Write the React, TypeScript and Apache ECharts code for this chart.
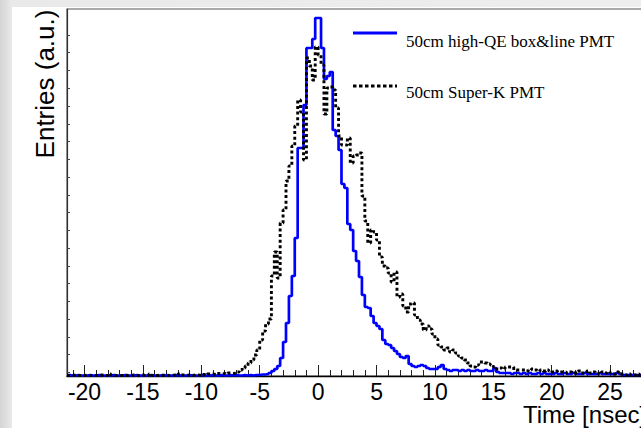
import React, { useEffect, useRef } from "react";
import * as echarts from "echarts";

// ---- data ----
const BIN_START = -21.5;
const BIN_WIDTH = 0.25;
const X_MIN = -21.5;
const X_MAX = 28.5;
const X_MAJOR_TICKS = [-20, -15, -10, -5, 0, 5, 10, 15, 20, 25];
const X_MINOR_TICKS = [
  -21, -19, -18, -17, -16, -14, -13, -12, -11, -9, -8, -7, -6, -4, -3, -2, -1,
  1, 2, 3, 4, 6, 7, 8, 9, 11, 12, 13, 14, 16, 17, 18, 19, 21, 22, 23, 24, 26, 27, 28,
];
const Y_MAX = 367;
const Y_TICKS = [
  3.6, 21.4, 39.1, 56.9, 74.6, 92.4, 110.2, 127.9, 145.7, 163.4, 181.2, 199.0,
  216.7, 234.5, 252.2, 270.0, 287.8, 305.5, 323.3, 341.0,
];

const SERIES_NAMES = ["50cm high-QE box&line PMT", "50cm Super-K PMT"];
const X_TITLE = "Time [nsec]";
const Y_TITLE = "Entries (a.u.)";

// entries per 0.25 ns bin, from -21.5 ns
const highQE = [
  1, 0.5, 0.5, 1, 0.5, 0.5, 0.5, 1, 0.5, 0.5, 1, 0.5, 0.5, 0.5, 0.5, 1, 0.5, 0.5, 0.5, 1,
  0.5, 0.5, 0.5, 1, 0.5, 0.5, 0.5, 0.5, 1, 0.5, 0.5, 0.5, 1, 0.5, 0.5, 0.5, 0.5, 1, 0.5, 0.5,
  0.5, 1, 0.5, 0.5, 0.5, 1, 0.5, 0.5, 0.5, 1, 0.5, 0.5, 1, 0.5, 0.5, 1, 0.5, 1, 0.5, 0.5,
  1, 0.5, 1, 0.5, 1, 1, 1.5, 1.5, 2, 3, 5, 7, 10, 18, 34, 53, 80, 100, 138, 228,
  228, 271, 328, 328, 337, 358, 358, 328, 297, 300, 304, 246, 240, 226, 192, 188, 152, 146, 125, 115,
  99, 81, 69, 68, 60, 53, 50, 47, 36, 32, 31, 28, 25, 22, 19, 18, 20, 12, 10, 9,
  10, 11, 10, 8, 7, 7, 7, 9, 11, 7, 6, 5, 6, 6, 5, 6, 5, 6, 5, 5,
  6, 5, 5, 6, 5, 5, 8, 4, 3, 3, 3, 3, 2, 3, 3, 2, 3, 2, 3, 2,
  2, 3, 2, 3, 2, 2, 2, 3, 2, 2, 3, 2, 2, 3, 2, 2, 2, 3, 2, 2,
  2, 2, 3, 2, 2, 2, 2, 2, 3, 2, 1, 1, 1, 1, 1, 1, 1, 1, 1, 1,
];

const superK = [
  0.5, 0.5, 1, 0.5, 0.5, 0.5, 1, 0.5, 0.5, 0.5, 0.5, 1, 0.5, 0.5, 2, 1, 0.5, 0.5, 0.5, 1,
  0.5, 0.5, 1, 0.5, 0.5, 1, 0.5, 0.5, 2, 0.5, 0.5, 1, 0.5, 1, 0.5, 0.5, 1, 0.5, 2, 1,
  0.5, 1, 0.5, 1, 1, 0.5, 1.5, 1, 2, 2, 1.5, 2.5, 2, 2.5, 2, 3, 2.5, 3, 4, 6,
  8, 10, 13, 16, 21, 26, 36, 45, 52, 57, 100, 124, 98, 153, 166, 195, 210, 230, 250, 276,
  264, 216, 318, 310, 296, 329, 321, 311, 262, 288, 289, 286, 268, 240, 231, 231, 238, 213, 220, 221,
  223, 180, 155, 133, 146, 144, 136, 119, 110, 108, 103, 94, 104, 79, 82, 70, 64, 72, 73, 61,
  56, 52, 46, 50, 47, 42, 37, 31, 29, 26, 28, 24, 26, 23, 20, 18, 16, 13, 10, 9,
  11, 14, 14, 13, 12, 11, 9, 7, 8, 7, 9, 9, 9, 6, 6, 6, 6, 5, 6, 7,
  6, 5, 6, 5, 6, 5, 4, 5, 4, 4, 4, 3, 4, 3, 3, 5, 3, 3, 5, 3,
  4, 3, 2, 4, 3, 4, 3, 2, 4, 2, 2, 1, 2, 1, 1, 2, 1, 1, 1, 1,
];

function toSteps(values: number[]): [number, number][] {
  const pts: [number, number][] = values.map((v, k) => [BIN_START + k * BIN_WIDTH, v]);
  pts.push([BIN_START + values.length * BIN_WIDTH, values[values.length - 1]]);
  return pts;
}

const SANS = "'Liberation Sans', Arial, Helvetica, sans-serif";
const SERIF = "'Liberation Serif', 'Times New Roman', serif";

export default function App() {
  const ref = useRef<HTMLDivElement>(null);

  useEffect(() => {
    if (!ref.current) return;
    const chart = echarts.init(ref.current, undefined, { renderer: "svg" });
    chart.setOption({
      animation: false,
      grid: {
        left: 67,
        top: 9,
        width: 584,
        height: 367,
        show: true,
        borderColor: "#555",
        borderWidth: 1.2,
        backgroundColor: "transparent",
      },
      xAxis: [
        {
          type: "value",
          min: X_MIN,
          max: X_MAX,
          position: "bottom",
          axisLine: { show: true, onZero: false, lineStyle: { color: "#000", width: 1.3 } },
          axisTick: {
            show: true,
            inside: true,
            length: 11,
            customValues: X_MAJOR_TICKS,
            lineStyle: { color: "#222", width: 1 },
          },
          axisLabel: {
            show: true,
            customValues: X_MAJOR_TICKS,
            fontSize: 23,
            lineHeight: 18,
            fontFamily: SANS,
            color: "#000",
            margin: 7,
          },
          splitLine: { show: false },
        },
        {
          type: "value",
          min: X_MIN,
          max: X_MAX,
          position: "bottom",
          axisLine: { show: false },
          axisTick: {
            show: true,
            inside: true,
            length: 6,
            customValues: X_MINOR_TICKS,
            lineStyle: { color: "#222", width: 1 },
          },
          axisLabel: { show: false },
          splitLine: { show: false },
        },
      ],
      yAxis: {
        type: "value",
        min: 0,
        max: Y_MAX,
        axisLine: { show: true, onZero: false, lineStyle: { color: "#333", width: 1.2 } },
        axisTick: {
          show: true,
          inside: true,
          length: 3,
          customValues: Y_TICKS,
          lineStyle: { color: "#444", width: 1 },
        },
        axisLabel: { show: false },
        splitLine: { show: false },
      },
      series: [
        {
          name: SERIES_NAMES[0],
          type: "line",
          step: "end",
          xAxisIndex: 0,
          data: toSteps(highQE),
          symbol: "none",
          lineStyle: { color: "#0000ff", width: 2.7 },
          z: 2,
        },
        {
          name: SERIES_NAMES[1],
          type: "line",
          step: "end",
          xAxisIndex: 0,
          data: toSteps(superK),
          symbol: "none",
          lineStyle: { color: "#000", width: 2.9, type: [3, 2.6] },
          z: 3,
        },
      ],
      graphic: [
        {
          type: "line",
          shape: { x1: 353, y1: 33, x2: 397, y2: 33 },
          style: { stroke: "#0000ff", lineWidth: 3 },
          z: 10,
        },
        {
          type: "text",
          x: 406,
          y: 41,
          style: {
            text: SERIES_NAMES[0],
            fontSize: 17,
            fontFamily: SERIF,
            fill: "#000",
            align: "left",
            verticalAlign: "middle",
          },
          z: 10,
        },
        {
          type: "line",
          shape: { x1: 353, y1: 86, x2: 397, y2: 86 },
          style: { stroke: "#000", lineWidth: 2.8, lineDash: [3.5, 2.5] },
          z: 10,
        },
        {
          type: "text",
          x: 406,
          y: 92,
          style: {
            text: SERIES_NAMES[1],
            fontSize: 17,
            fontFamily: SERIF,
            fill: "#000",
            align: "left",
            verticalAlign: "middle",
          },
          z: 10,
        },
        {
          type: "text",
          x: 523,
          y: 414,
          style: {
            text: X_TITLE,
            fontSize: 24,
            lineHeight: 20,
            fontFamily: SANS,
            fill: "#000",
            align: "left",
            verticalAlign: "middle",
          },
          z: 10,
        },
        {
          type: "text",
          x: 45,
          y: 84,
          rotation: Math.PI / 2,
          style: {
            text: Y_TITLE,
            fontSize: 26,
            fontFamily: SANS,
            fill: "#000",
            align: "center",
            verticalAlign: "middle",
          },
          z: 10,
        },
      ],
    });
    return () => chart.dispose();
  }, []);

  return (
    <div
      style={{
        position: "fixed",
        left: 0,
        top: 0,
        width: 641,
        height: 428,
        overflow: "hidden",
        background: "linear-gradient(to right, #d4d4d4 0px, #e9e9e9 12px, #eeeeee 100%)",
      }}
    >
      <div
        style={{ position: "absolute", left: 12, top: 7, right: 0, bottom: 0, background: "#fff" }}
      />
      <div ref={ref} style={{ position: "absolute", left: 0, top: 0, width: 700, height: 428 }} />
    </div>
  );
}
